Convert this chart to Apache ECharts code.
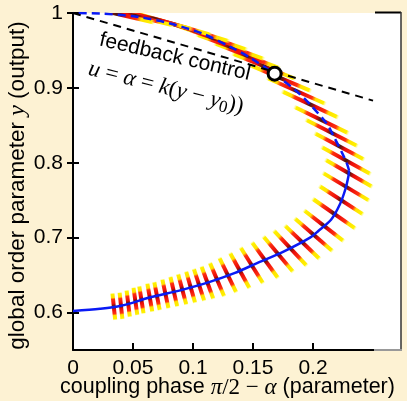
<!DOCTYPE html>
<html><head><meta charset="utf-8">
<script src="https://cdn.jsdelivr.net/npm/echarts@6/dist/echarts.min.js"></script>
<style>html,body{margin:0;padding:0;background:#FDF2D3;}#chart{width:407px;height:401px;}</style>
</head><body><div id="chart"></div>
<script>
// Stable (lower) branch of the order parameter y versus coupling phase
const stableX = [0, 0.0225, 0.04, 0.064, 0.09, 0.114, 0.135, 0.152, 0.175, 0.1975, 0.2044, 0.215, 0.2225, 0.227, 0.2295, 0.2300];
const stableY = [0.602, 0.605, 0.609, 0.620, 0.630, 0.641, 0.653, 0.665, 0.681, 0.700, 0.709, 0.724, 0.745, 0.765, 0.782, 0.790];
// Unstable (upper) branch, continued from the fold
const unstableX = [0.2300, 0.228, 0.2247, 0.217, 0.2117, 0.1975, 0.186, 0.1683, 0.1475, 0.132, 0.1086, 0.081, 0.053, 0.025, 0];
const unstableY = [0.790, 0.800, 0.8116, 0.836, 0.8516, 0.878, 0.896, 0.918, 0.9404, 0.954, 0.972, 0.986, 0.995, 0.999, 1.0];
// Feedback control line u = alpha = k(y - y0)
const feedbackX = [0, 0.25];
const feedbackY = [1.0, 0.883];
// Operating point where the control line meets the branch
const pointX = [0.168];
const pointY = [0.919];
// Measured streaks: centre (x, y) and half extent (dx, dy) in data units
const streakX = [0.034,0.040,0.046,0.052,0.057,0.064,0.070,0.077,0.084,0.091,0.098,0.105,0.112,0.120,0.129,0.139,0.149,0.160,0.171,0.181,0.191,0.2005,0.209,0.2175,0.2235,0.2275,0.2298,0.2275,0.222,0.2155,0.207,0.1975,0.186,0.173,0.159,0.145,0.131,0.116,0.100,0.084,0.068,0.052,0.036];
const streakY = [0.608,0.609,0.612,0.615,0.617,0.620,0.622,0.625,0.628,0.631,0.634,0.637,0.640,0.644,0.650,0.656,0.663,0.670,0.678,0.686,0.694,0.704,0.716,0.732,0.750,0.768,0.786,0.803,0.822,0.840,0.857,0.878,0.896,0.913,0.929,0.943,0.955,0.967,0.977,0.985,0.992,0.996,0.999];
const streakDx = [0.00122,0.00122,0.00142,0.00168,0.00189,0.00217,0.00239,0.00269,0.0030,0.00356,0.0039,0.00451,0.00513,0.00619,0.00731,0.00848,0.00972,0.01127,0.01286,0.01421,0.01499,0.01635,0.01707,0.01843,0.01887,0.0200,0.02021,0.02114,0.02134,0.02228,0.02322,0.02417,0.02512,0.02608,0.02704,0.02801,0.02897,0.02994,0.03108,0.03204,0.0322,0.03234,0.03248];
const streakDy = [0.01856,0.01856,0.01853,0.01915,0.0191,0.0197,0.01963,0.02021,0.02079,0.02125,0.02179,0.02219,0.02255,0.02332,0.02397,0.02449,0.02487,0.02481,0.02451,0.02438,0.02316,0.02274,0.02134,0.02065,0.01961,0.01923,0.01867,0.01875,0.01815,0.01816,0.01812,0.01803,0.01789,0.01771,0.01748,0.0172,0.01687,0.0165,0.0152,0.0147,0.0138,0.0129,0.012];
// Axis ticks
const xTicks = [0, 0.05, 0.1, 0.15, 0.2];
const yTicks = [0.6, 0.7, 0.8, 0.9, 1];

const GRID = {left: 73, right: 6, top: 13, bottom: 51};
const SANS = '"Liberation Sans", Arial, Helvetica, sans-serif';
const SERIF = '"Liberation Serif", "Times New Roman", serif';

// colour along each streak: yellow tips, red body, dark core
const streakStops = [
  {offset: 0, color: 'rgba(255,255,150,0)'},
  {offset: 0.05, color: '#FFF200'},
  {offset: 0.18, color: '#FFE000'},
  {offset: 0.24, color: '#FF3010'},
  {offset: 0.40, color: '#E80A0A'},
  {offset: 0.47, color: '#6A1510'},
  {offset: 0.50, color: '#4A1410'},
  {offset: 0.53, color: '#6A1510'},
  {offset: 0.60, color: '#E80A0A'},
  {offset: 0.76, color: '#FF3010'},
  {offset: 0.82, color: '#FFE000'},
  {offset: 0.95, color: '#FFF200'},
  {offset: 1, color: 'rgba(255,255,150,0)'}
];

function renderStreak(params, api) {
  const cx = api.value(0), cy = api.value(1), dx = api.value(2), dy = api.value(3);
  const p1 = api.coord([cx - dx, cy + dy]);
  const p2 = api.coord([cx + dx, cy - dy]);
  const cs = params.coordSys;
  return {
    type: 'line',
    shape: {x1: p1[0], y1: p1[1], x2: p2[0], y2: p2[1]},
    style: {
      stroke: {type: 'linear', x: p1[0], y: p1[1], x2: p2[0], y2: p2[1], global: true, colorStops: streakStops},
      lineWidth: 4,
      lineCap: 'butt'
    },
    clipPath: {type: 'rect', shape: {x: cs.x, y: cs.y, width: cs.width, height: cs.height}}
  };
}

const zip = (a, b) => a.map((v, i) => [v, b[i]]);

const chart = echarts.init(document.getElementById('chart'));
chart.setOption({
  backgroundColor: '#FDF2D3',
  animation: false,
  grid: Object.assign({show: true, backgroundColor: '#FFFFFF', borderWidth: 0, containLabel: false, outerBoundsMode: 'none'}, GRID),
  xAxis: {
    type: 'value', min: 0, max: 0.2733, interval: 0.05,
    splitLine: {show: false},
    axisLine: {lineStyle: {color: '#000', width: 2}},
    axisTick: {inside: true, length: 7, customValues: xTicks, lineStyle: {color: '#000', width: 2}},
    axisLabel: {customValues: xTicks, margin: 8, color: '#000', fontSize: 21, fontFamily: SANS},
    name: '{t|coupling phase }{m|π}{n|/2 − }{m|α}{t| (parameter)}',
    nameLocation: 'middle', nameGap: 26, nameMoveOverlap: false,
    nameTextStyle: {
      padding: [0, 19, 0, 0],
      rich: {
        t: {fontSize: 21.5, fontFamily: SANS, color: '#000'},
        m: {fontSize: 23, fontFamily: SERIF, fontStyle: 'italic', color: '#000'},
        n: {fontSize: 23, fontFamily: SERIF, color: '#000'}
      }
    }
  },
  yAxis: [{
    type: 'value', min: 0.55, max: 1.0, interval: 0.05,
    splitLine: {show: false},
    axisLine: {lineStyle: {color: '#000', width: 2}},
    axisTick: {inside: false, length: 6, customValues: yTicks, lineStyle: {color: '#000', width: 2}},
    axisLabel: {customValues: yTicks, margin: 10, color: '#000', fontSize: 21, fontFamily: SANS},
    name: '{t|global order parameter }{m|y}{t| (output)}',
    nameLocation: 'middle', nameGap: 43, nameMoveOverlap: false,
    nameTextStyle: {
      padding: [0, 8, 0, 0],
      rich: {
        t: {fontSize: 22.5, fontFamily: SANS, color: '#000'},
        m: {fontSize: 24, fontFamily: SERIF, fontStyle: 'italic', color: '#000'}
      }
    }
  }, {
    type: 'value', min: 0.55, max: 1.0, interval: 0.05, position: 'left',
    splitLine: {show: false},
    axisLine: {show: false},
    axisTick: {inside: true, length: 6, customValues: yTicks, lineStyle: {color: '#000', width: 2}},
    axisLabel: {show: false}
  }],
  graphic: [
    // frame pieces on the right-hand side of the plot box
    {type: 'line', silent: true, z: 10, shape: {x1: 375, y1: 12.5, x2: 401, y2: 12.5}, style: {stroke: '#000', lineWidth: 2}},
    {type: 'line', silent: true, z: 10, shape: {x1: 401, y1: 12, x2: 401, y2: 350}, style: {stroke: '#333', lineWidth: 1.5}},
    {type: 'line', silent: true, z: 10, shape: {x1: 374, y1: 350, x2: 402, y2: 350}, style: {stroke: '#999', lineWidth: 2}},
    {
      type: 'text', silent: true, z: 20, x: 175, y: 57, rotation: -13 * Math.PI / 180,
      style: {text: 'feedback control', font: '21px ' + SANS, fill: '#000', align: 'center', verticalAlign: 'middle'}
    },
    {
      type: 'text', silent: true, z: 20, x: 166, y: 88, rotation: -14 * Math.PI / 180,
      style: {
        text: '{i|u}{n| = }{i|α}{n| = }{i|k}{n|(}{i|y}{n| − }{i|y}{s|0}{n|))}',
        align: 'center', verticalAlign: 'middle',
        rich: {
          i: {font: 'italic 23px ' + SERIF, fill: '#000', lineHeight: 27},
          n: {font: '23px ' + SERIF, fill: '#000', lineHeight: 27},
          s: {font: '17px ' + SERIF, fill: '#000', lineHeight: 17, verticalAlign: 'bottom'}
        }
      }
    }
  ],
  series: [
    {
      type: 'custom', name: 'streaks', renderItem: renderStreak, z: 2,
      data: streakX.map((x, i) => [x, streakY[i], streakDx[i], streakDy[i]]),
      encode: {x: 0, y: 1}, silent: true
    },
    {
      type: 'line', name: 'stable', data: zip(stableX, stableY), smooth: 0.3, showSymbol: false, z: 4,
      lineStyle: {color: '#0A1AF5', width: 2.5}
    },
    {
      type: 'line', name: 'unstable', data: zip(unstableX, unstableY), smooth: 0.3, showSymbol: false, z: 4,
      lineStyle: {color: '#0A1AF5', width: 2.5, type: [8, 5]}
    },
    {
      type: 'line', name: 'feedback', data: zip(feedbackX, feedbackY), showSymbol: false, z: 5,
      lineStyle: {color: '#000', width: 2, type: [8, 6]}
    },
    {
      type: 'scatter', name: 'operating point', data: zip(pointX, pointY), z: 6,
      symbol: 'circle', symbolSize: 13,
      itemStyle: {color: '#FFFFFF', opacity: 1, borderColor: '#000', borderWidth: 3}
    }
  ]
});
</script>
</body></html>
